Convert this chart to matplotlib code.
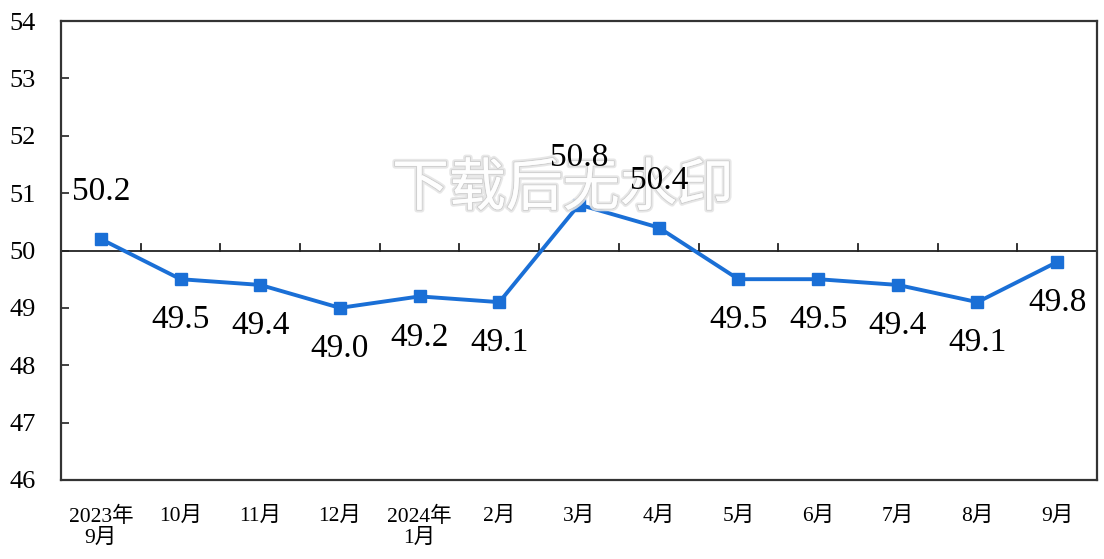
import matplotlib
matplotlib.use("Agg")
import matplotlib.pyplot as plt
import matplotlib.patheffects as pe

months = ["2023年\n9月", "10月", "11月", "12月", "2024年\n1月", "2月", "3月",
          "4月", "5月", "6月", "7月", "8月", "9月"]
pmi = [50.2, 49.5, 49.4, 49.0, 49.2, 49.1, 50.8, 50.4, 49.5, 49.5, 49.4, 49.1, 49.8]
y_ticks = [46, 47, 48, 49, 50, 51, 52, 53, 54]

serif = ["Liberation Serif", "Noto Sans CJK SC"]
line_color = "#1a6fd6"

fig = plt.figure(figsize=(11.04, 5.59), dpi=100)
ax = fig.add_axes([61 / 1104, 1 - 480 / 559, 1036 / 1104, 459 / 559])

x = list(range(len(pmi)))
ax.plot(x, pmi, color=line_color, lw=2.8, marker="s", markersize=8, zorder=3)

ax.set_xlim(-0.5, len(pmi) - 0.5)
ax.set_ylim(y_ticks[0], y_ticks[-1])
ax.set_yticks(y_ticks)
ax.set_yticklabels([str(v) for v in y_ticks], family=serif, fontsize=19)
ax.tick_params(axis="y", direction="in", length=6, width=1.3, pad=18, color="#333333")

# category labels sit under the frame; ticks are drawn on the 50 reference line
ax.set_xticks(x)
ax.set_xticklabels(months, family=serif, fontsize=15.5, linespacing=1.15, va="top")
ax.tick_params(axis="x", length=0, pad=19)

for s in ax.spines.values():
    s.set_linewidth(1.6)
    s.set_color("#333333")

ax.axhline(50, color="#222222", lw=1.3, zorder=2)
for b in range(1, len(pmi)):
    ax.plot([b - 0.5, b - 0.5], [50, 50.12], color="#222222", lw=1.3, zorder=2)

wm = ax.text(563 / 1104, 1 - 189 / 559, "下载后无水印", transform=fig.transFigure,
             ha="center", va="center", family=["Noto Sans CJK SC"], fontsize=41,
             weight="medium", color="white", alpha=0.88, zorder=5)
wm.set_path_effects([pe.withStroke(linewidth=4, foreground="#e4e4e4"),
                     pe.withStroke(linewidth=1.5, foreground="#cccccc"),
                     pe.Normal()])

for i, v in enumerate(pmi):
    off = 34 if v >= 50 else -29.5
    ax.annotate(f"{v:.1f}", (i, v), xytext=(0, off), textcoords="offset points",
                ha="center", va="center", family=serif, fontsize=24, zorder=6)

fig.savefig("out.png", dpi=100, facecolor="white")
